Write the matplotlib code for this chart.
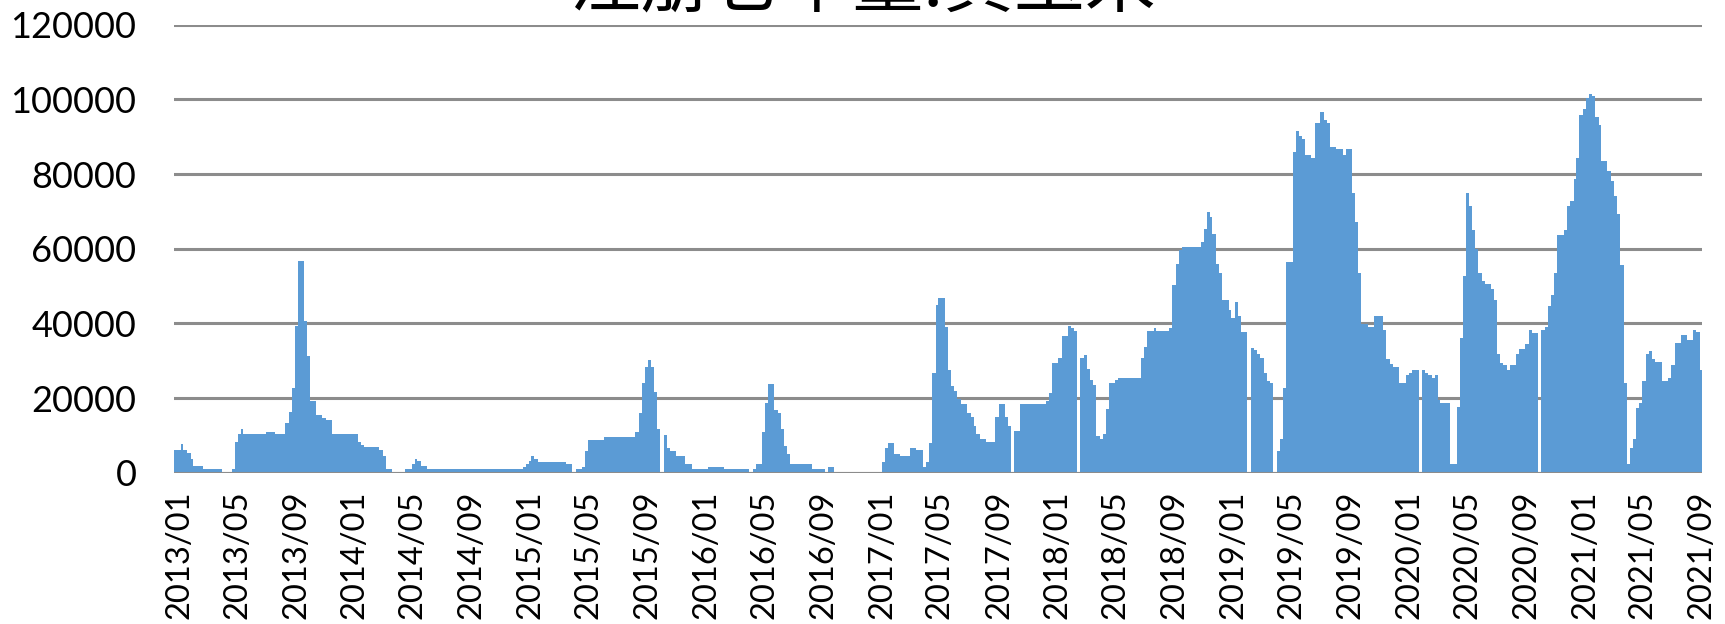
import numpy as np
import pandas as pd
import matplotlib
matplotlib.use("Agg")
import matplotlib.pyplot as plt
import matplotlib.dates as mdates

plt.rcParams["font.family"] = ["Lato", "Noto Sans CJK SC", "DejaVu Sans"]

TITLE = "注册仓单量:黄玉米"
START = "2012-12-21"  # first day shown

# registered receipts (lots) and how many days each level was held
hold_days = [
    # 2013-2014
    15, 4, 7, 9, 5, 20, 39, 21, 6, 6, 7, 4, 48, 19, 21, 7, 7, 6, 6, 13,
    6, 7, 12, 13, 7, 14, 53, 7, 6, 32, 7, 7, 13, 26, 14, 7, 5, 7, 12, 200,
    # 2015
    6, 6, 6, 5, 8, 59, 13, 7, 13, 7, 6, 33, 65, 7, 7, 6, 7, 6, 6, 6,
    7, 7, 6, 7, 13, 19, 13, 34,
    # 2016
    33, 53, 7, 6, 13, 7, 6, 12, 8, 6, 7, 6, 7, 45, 27, 7, 12, 99,
    # 2017
    7, 7, 12, 13, 20, 13, 13, 7, 7, 6, 7, 5, 14, 6, 7, 7, 6, 7, 14, 7,
    6, 6, 7, 12, 20, 7, 13, 6, 6, 7, 13, 53,
    # 2018
    7, 6, 13, 7, 13, 7, 6, 6, 7, 7, 6, 7, 6, 7, 7, 6, 7, 7, 12, 7,
    46, 7, 7, 13, 6, 26, 7, 7, 6, 7, 39, 6, 7, 6, 5, 7, 7, 7, 14, 4,
    9, 5, 6, 14, 7,
    # 2019
    6, 7, 7, 7, 7, 6, 7, 7, 6, 7, 7, 13, 7, 6, 6, 7, 13, 7, 12, 7,
    6, 7, 13, 13, 7, 13, 6, 6, 7, 13, 14, 18, 7, 7, 7, 12, 14, 7, 7, 13,
    7,
    # 2020-2021
    6, 7, 7, 7, 6, 5, 20, 14, 6, 7, 6, 6, 7, 6, 7, 7, 6, 13, 7, 6,
    6, 7, 7, 6, 14, 6, 13, 7, 6, 13, 7, 7, 6, 7, 7, 6, 14, 7, 6, 7,
    6, 6, 7, 6, 7, 7, 6, 7, 6, 12, 7, 7, 7, 6, 7, 7, 6, 7, 6, 7,
    6, 7, 6, 7, 7, 13, 13, 7, 7, 13, 13, 12, 7, 7, 5,
]
receipts = [
    # 2013-2014
    6000, 7600, 6000, 5300, 3800, 1700, 1000, 0, 1000, 8200,
    10300, 11800, 10300, 11000, 10300, 13200, 16200, 22700, 39300, 56700,
    40700, 31300, 19100, 15400, 14700, 14000, 10300, 8200, 7500, 6800,
    6000, 4500, 1000, 0, 1000, 2400, 3800, 3100, 1700, 1000,
    # 2015
    1600, 2400, 3100, 4500, 3800, 3000, 2400, 0, 1000, 1600,
    5900, 8800, 9500, 11000, 15900, 23900, 28200, 30200, 28200, 21700,
    11700, 0, 10200, 6700, 5900, 4500, 2400, 1000,
    # 2016
    1600, 1000, 0, 1000, 2200, 10900, 18800, 23800, 16700, 15900,
    11600, 7200, 5100, 2200, 1000, 0, 1500, 0,
    # 2017
    2900, 6500, 8000, 5100, 4400, 6500, 6000, 1500, 2900, 7900,
    26800, 44800, 46900, 38900, 27400, 23300, 21800, 19800, 18300, 16100,
    14800, 12600, 10400, 9000, 8300, 14800, 18400, 14800, 12600, 0,
    11200, 18400,
    # 2018
    19100, 21300, 29300, 30700, 36500, 39300, 38700, 37900, 0, 30600,
    31400, 27800, 24800, 23400, 9700, 9000, 10400, 17000, 24100, 24800,
    25500, 30700, 33700, 37900, 38700, 37900, 38700, 50200, 56000, 59600,
    60400, 61800, 65400, 69700, 68500, 63900, 56000, 53500, 46300, 43500,
    41400, 45700, 42000, 37800, 0,
    # 2019
    33500, 32800, 31900, 30600, 26800, 24600, 23900, 0, 5900, 8900,
    22600, 56400, 85900, 91600, 90100, 89400, 85200, 84400, 93700, 96500,
    94400, 93700, 87300, 86600, 85200, 86600, 75000, 67100, 53400, 39800,
    39100, 42000, 38300, 30400, 29100, 28300, 23900, 26200, 26800, 27600,
    0,
    # 2020-2021
    27600, 26800, 26100, 25500, 26100, 19600, 18800, 2400, 17500, 36200,
    52600, 75000, 71500, 64900, 60000, 53500, 51300, 50600, 49100, 46200,
    31700, 29500, 28900, 27600, 28900, 31700, 33200, 34600, 38300, 37500,
    0, 38300, 39000, 44700, 47700, 53400, 63600, 65000, 71500, 72900,
    78700, 84300, 95900, 97300, 100400, 101500, 100900, 95200, 93100, 83600,
    80800, 78000, 74200, 69200, 55600, 23900, 2400, 6700, 8900, 17300,
    18800, 24600, 31700, 32600, 30400, 29700, 24600, 25300, 28900, 34700,
    36800, 35500, 38300, 37700, 27500,
]

BLUE = "#5B9BD5"
GRID = "#8C8C8C"

start_num = mdates.date2num(pd.Timestamp(START))
days = np.array(hold_days, dtype=float)
left = start_num + np.concatenate([[0.0], np.cumsum(days)[:-1]])

fig = plt.figure(figsize=(17.25, 6.24), dpi=100)
ax = fig.add_axes([174 / 1725, 1 - 472.7 / 624, 1528 / 1725, 448 / 624])

ax.bar(left, receipts, width=days, align="edge", color=BLUE, linewidth=0, zorder=2)
ax.axhline(0, color=GRID, lw=2.2, zorder=3)

ax.set_xlim(start_num, start_num + days.sum())
ax.set_ylim(0, 120000)
ax.set_yticks(np.arange(0, 120001, 20000))
ax.yaxis.grid(True, color=GRID, lw=2.2)
ax.set_axisbelow(True)

ax.xaxis.set_major_locator(mdates.MonthLocator(bymonth=(1, 5, 9)))
ax.xaxis.set_major_formatter(mdates.DateFormatter("%Y/%m"))
ax.tick_params(axis="x", length=0, pad=13, labelsize=23.5, labelrotation=90)
ax.tick_params(axis="y", length=0, pad=27, labelsize=26)
for lab in ax.get_xticklabels():
    lab.set_va("top")
    lab.set_ha("center")

for s in ax.spines.values():
    s.set_visible(False)

fig.text(0.5, 0.990, TITLE, ha="center", va="baseline", fontsize=51,
         family=["Noto Sans CJK SC", "DejaVu Sans"])

fig.savefig("out.png", dpi=100)
